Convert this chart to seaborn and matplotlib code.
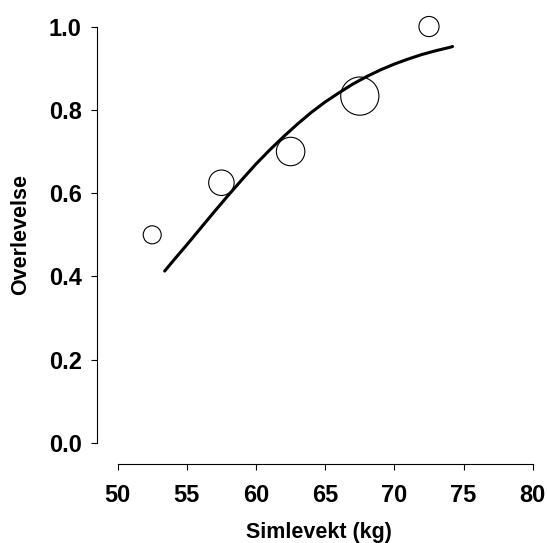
import matplotlib
matplotlib.use("Agg")
import matplotlib.pyplot as plt
from matplotlib import font_manager as fm
import seaborn as sns
import pandas as pd

# Observed group means (weight class midpoints) and group sizes
weight = [52.5, 57.5, 62.5, 67.5, 72.5]
survival = [0.5, 0.625, 0.7, 0.833, 1.0]
n_group = [4, 8, 10, 18, 5]

# Fitted curve, values
curve_x = [53.4, 54, 55, 56, 57, 58, 59, 60, 61, 62, 63, 64, 65, 66, 67,
           68, 69, 70, 71, 72, 73, 74, 74.2]
curve_y = [0.413, 0.437, 0.476, 0.516, 0.556, 0.595, 0.633, 0.670, 0.704,
           0.736, 0.766, 0.794, 0.819, 0.841, 0.862, 0.880, 0.896, 0.910,
           0.922, 0.933, 0.942, 0.950, 0.952]

x_ticks = [50, 55, 60, 65, 70, 75, 80]
y_ticks = [0.0, 0.2, 0.4, 0.6, 0.8, 1.0]
y_tick_labels = ["0.0", "0.2", "0.4", "0.6", "0.8", "1.0"]

sns.set_style("white")
plt.rcParams["font.family"] = ["Liberation Sans", "DejaVu Sans"]

# locate the regular-width Liberation Sans Bold file
bold_file = None
for f in fm.fontManager.ttflist:
    if f.name == "Liberation Sans" and "narrow" not in f.fname.lower() \
            and f.weight in ("bold", 700) and f.style == "normal":
        bold_file = f.fname
        break


def fp(size):
    if bold_file:
        return fm.FontProperties(fname=bold_file, size=size)
    return fm.FontProperties(family="Liberation Sans", weight="bold", size=size)


fig = plt.figure(figsize=(5.47, 5.43), dpi=100)
ax = fig.add_axes([0.1773, 0.1453, 0.8099, 0.8442])

pts = pd.DataFrame({"x": weight, "y": survival, "n": n_group})
crv = pd.DataFrame({"x": curve_x, "y": curve_y})

sns.lineplot(data=crv, x="x", y="y", ax=ax, color="black", linewidth=2.2,
             zorder=3)
sizes = {v: 42 * v for v in n_group}
sns.scatterplot(data=pts, x="x", y="y", size="n", sizes=sizes, ax=ax,
                facecolor="none", edgecolor="black", linewidth=0.8,
                legend=False, zorder=2)

ax.set_xlim(48.51, 80.52)
ax.set_ylim(-0.0504, 1.05)
ax.set_xticks(x_ticks)
ax.set_xticklabels([str(t) for t in x_ticks])
ax.set_yticks(y_ticks)
ax.set_yticklabels(y_tick_labels)

for s in ["top", "right"]:
    ax.spines[s].set_visible(False)
ax.spines["left"].set_bounds(0, 1)
ax.spines["bottom"].set_bounds(50, 80)
for s in ["left", "bottom"]:
    ax.spines[s].set_linewidth(0.8)
    ax.spines[s].set_color("black")

ax.tick_params(axis="both", which="major", bottom=True, left=True,
               direction="out", length=4, width=0.8,
               color="black", labelcolor="black")
ax.tick_params(axis="y", pad=7)
ax.tick_params(axis="x", pad=10)
for lab in ax.get_xticklabels() + ax.get_yticklabels():
    lab.set_fontproperties(fp(17))

ax.set_xlabel("Simlevekt (kg)", fontproperties=fp(15.5),
              color="black", labelpad=11)
ax.set_ylabel("Overlevelse", fontproperties=fp(15.5),
              color="black", labelpad=13)

fig.savefig("out.png", dpi=100)
